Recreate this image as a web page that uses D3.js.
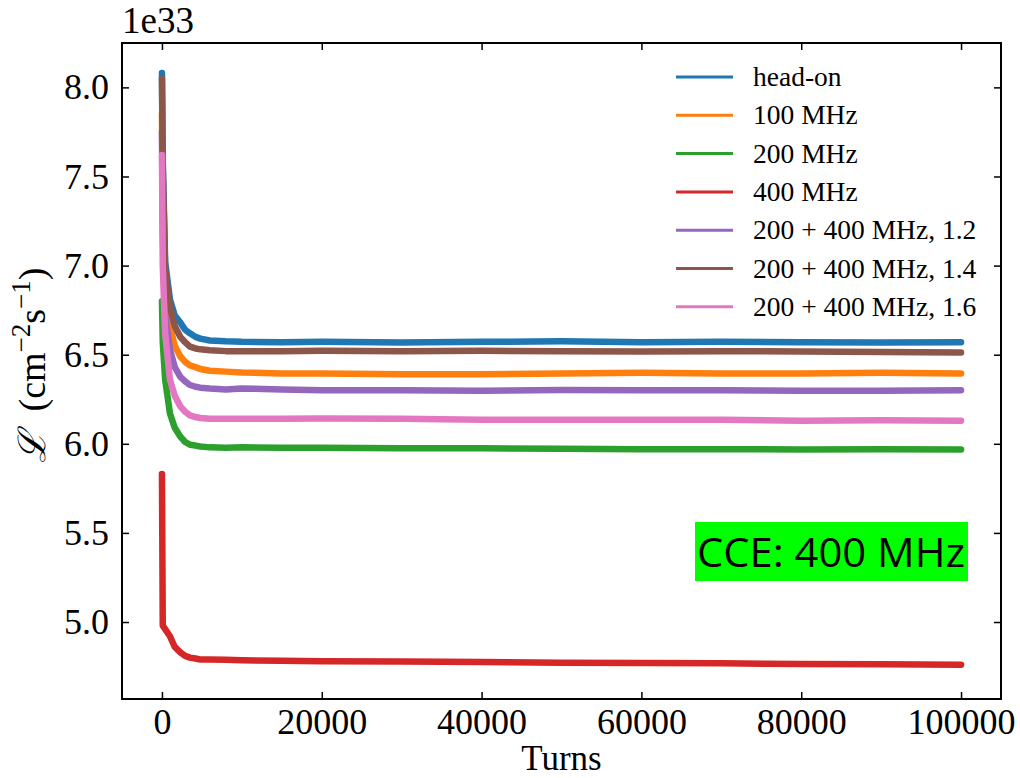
<!DOCTYPE html>
<html><head><meta charset="utf-8">
<script src="https://cdn.jsdelivr.net/npm/d3@7"></script>
<style>body{margin:0;background:#fff}svg{display:block}</style>
</head><body>
<svg id="c" width="1020" height="778"></svg>
<script>
// ---- data (luminosity in units of 1e33 cm^-2 s^-1) ----
const turns = [0, 100, 400, 1000, 1600, 2300, 2900, 3500, 4200, 4800, 6000, 8000, 10000, 15000, 20000, 30000, 40000, 50000, 60000, 70000, 80000, 90000, 100000];
const headOn   = [8.08, 7.60, 7.02, 6.81, 6.72, 6.68, 6.64, 6.62, 6.60, 6.59, 6.58, 6.575, 6.572, 6.570, 6.572, 6.568, 6.572, 6.575, 6.570, 6.572, 6.570, 6.568, 6.570];
const mhz100   = [7.85, 7.35, 6.85, 6.66, 6.55, 6.49, 6.46, 6.44, 6.43, 6.42, 6.41, 6.405, 6.400, 6.395, 6.395, 6.390, 6.390, 6.395, 6.398, 6.395, 6.395, 6.398, 6.395];
const mhz200   = [6.80, 6.57, 6.36, 6.17, 6.09, 6.04, 6.01, 5.995, 5.99, 5.985, 5.980, 5.978, 5.980, 5.978, 5.978, 5.975, 5.975, 5.972, 5.970, 5.970, 5.968, 5.970, 5.968];
const mhz400   = [5.83, 4.98, 4.96, 4.92, 4.86, 4.83, 4.81, 4.80, 4.795, 4.79, 4.79, 4.788, 4.785, 4.782, 4.780, 4.778, 4.775, 4.772, 4.770, 4.768, 4.765, 4.763, 4.760];
const mix12    = [7.75, 7.20, 6.72, 6.53, 6.43, 6.375, 6.35, 6.33, 6.32, 6.315, 6.31, 6.305, 6.310, 6.305, 6.300, 6.300, 6.298, 6.302, 6.300, 6.300, 6.298, 6.298, 6.300];
const mix14    = [8.05, 7.55, 6.98, 6.77, 6.66, 6.60, 6.57, 6.545, 6.535, 6.53, 6.525, 6.52, 6.520, 6.520, 6.522, 6.520, 6.522, 6.520, 6.518, 6.520, 6.518, 6.515, 6.512];
const mix16    = [7.62, 7.00, 6.62, 6.36, 6.27, 6.21, 6.18, 6.16, 6.15, 6.145, 6.14, 6.14, 6.140, 6.140, 6.142, 6.140, 6.135, 6.135, 6.135, 6.135, 6.130, 6.132, 6.130];
const seriesNames = ["head-on", "100 MHz", "200 MHz", "400 MHz", "200 + 400 MHz, 1.2", "200 + 400 MHz, 1.4", "200 + 400 MHz, 1.6"];
const seriesValues = [headOn, mhz100, mhz200, mhz400, mix12, mix14, mix16];
const seriesColors = ["#1f77b4", "#ff7f0e", "#2ca02c", "#d62728", "#9467bd", "#8c564b", "#e377c2"];
const xTicks = [0, 20000, 40000, 60000, 80000, 100000];
const yTicks = [5.0, 5.5, 6.0, 6.5, 7.0, 7.5, 8.0];
const annotation = "CCE: 400 MHz";

// ---- layout ----
const svg = d3.select("#c");
const L = 122, R = 1001, T = 43, B = 699;
const x = d3.scaleLinear().domain([-5000, 105000]).range([L, R]);
const y = d3.scaleLinear().domain([4.568, 8.249]).range([B, T]);
const serif = "'Liberation Serif','Times New Roman',serif";

// lines
const line = d3.line().x((d, i) => x(turns[i])).y(d => y(d));
seriesValues.forEach((vals, k) => {
  svg.append("path").datum(vals)
    .attr("d", line)
    .attr("fill", "none")
    .attr("stroke", seriesColors[k])
    .attr("stroke-width", 6.5)
    .attr("stroke-linejoin", "round")
    .attr("stroke-linecap", "round");
});

// axes (ticks inward)
const tickLen = 7;
const fmtY = d3.format(".1f");
const axB = svg.append("g").attr("transform", `translate(0,${B})`)
  .call(d3.axisBottom(x).tickValues(xTicks).tickSizeInner(-tickLen).tickSizeOuter(0).tickPadding(9).tickFormat(d3.format("d")));
const axT = svg.append("g").attr("transform", `translate(0,${T})`)
  .call(d3.axisTop(x).tickValues(xTicks).tickSizeInner(-tickLen).tickSizeOuter(0).tickFormat(""));
const axL = svg.append("g").attr("transform", `translate(${L},0)`)
  .call(d3.axisLeft(y).tickValues(yTicks).tickSizeInner(-tickLen).tickSizeOuter(0).tickPadding(13).tickFormat(fmtY));
const axR = svg.append("g").attr("transform", `translate(${R},0)`)
  .call(d3.axisRight(y).tickValues(yTicks).tickSizeInner(-tickLen).tickSizeOuter(0).tickFormat(""));
[axB, axT, axL, axR].forEach(g => {
  g.select(".domain").remove();
  g.selectAll(".tick line").attr("stroke", "#000").attr("stroke-width", 1.5);
  g.selectAll("text").attr("font-family", serif).attr("font-size", 36).attr("fill", "#000");
});
axB.selectAll("text").attr("dy", "0.71em");
// frame
svg.append("rect").attr("x", L).attr("y", T).attr("width", R - L).attr("height", B - T)
  .attr("fill", "none").attr("stroke", "#000").attr("stroke-width", 2);

// labels
svg.append("text").attr("x", (L + R) / 2).attr("y", 770).attr("text-anchor", "middle")
  .attr("font-family", serif).attr("font-size", 35).text("Turns");
svg.append("text").attr("x", L).attr("y", 33)
  .attr("font-family", serif).attr("font-size", 37).text("1e33");
const yl = svg.append("text").attr("transform", `translate(45,365) rotate(-90)`)
  .attr("text-anchor", "middle").attr("font-family", serif).attr("font-size", 38);
yl.append("tspan").attr("font-style", "italic").text("ℒ");
yl.append("tspan").text("\u2002(cm");
yl.append("tspan").attr("font-size", 27).attr("dy", -15).text("−2");
yl.append("tspan").attr("dy", 15).text("s");
yl.append("tspan").attr("font-size", 27).attr("dy", -15).text("−1");
yl.append("tspan").attr("dy", 15).text(")");

// legend
const lg = svg.append("g");
seriesNames.forEach((name, k) => {
  const yy = 77 + k * 38.3;
  lg.append("line").attr("x1", 676).attr("x2", 733).attr("y1", yy).attr("y2", yy)
    .attr("stroke", seriesColors[k]).attr("stroke-width", 3);
  lg.append("text").attr("x", 753).attr("y", yy + 9).attr("font-family", serif)
    .attr("font-size", 27.5).attr("fill", "#000").text(name);
});

// annotation box
svg.append("rect").attr("x", 695).attr("y", 522).attr("width", 273).attr("height", 59).attr("fill", "#00ff00");
svg.append("text").attr("x", 697).attr("y", 567).attr("font-family", "'Open Sans','Noto Sans',sans-serif")
  .attr("font-size", 40).attr("textLength", 268).attr("lengthAdjust", "spacingAndGlyphs").text(annotation);
</script>
</body></html>
